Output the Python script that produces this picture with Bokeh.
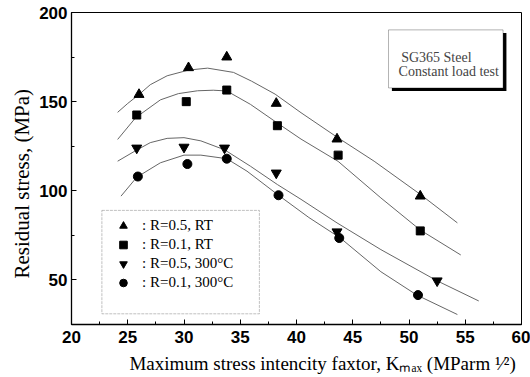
from bokeh.embed import file_html
from bokeh.models import (BoxAnnotation, Label, Legend, LegendItem, Range1d,
                          SingleIntervalTicker, Title)
from bokeh.plotting import figure
from bokeh.resources import INLINE

# Measured residual stress (MPa) against K_max (MPa m^1/2)
k_r05_rt = [26.0, 30.4, 33.8, 38.2, 43.6, 51.0]
s_r05_rt = [154, 169, 175, 149, 129, 97]
k_r01_rt = [25.8, 30.2, 33.8, 38.3, 43.7, 51.0]
s_r01_rt = [142.5, 150, 156.5, 136.5, 120, 77.5]
k_r05_300 = [25.8, 30.0, 33.6, 38.2, 43.6, 52.5]
s_r05_300 = [124, 124.5, 124, 110, 77, 49.5]
k_r01_300 = [25.9, 30.3, 33.8, 38.4, 43.8, 50.8]
s_r01_300 = [108, 115, 118, 97.5, 73.5, 41.5]

# Trend curves through each series
fit_k_r05_rt = [24.1, 25.0, 26.0, 27.0, 28.5, 30.4, 32.1, 34.4, 36.0, 38.1, 40.4, 43.6, 46.9, 51.0, 54.3]
fit_s_r05_rt = [144, 149, 154, 159.5, 164.5, 167.7, 168.8, 166.4, 161.5, 154.2, 143.8, 130.1, 116.6, 98, 82]
fit_k_r01_rt = [24.1, 25.7, 27.9, 29.5, 31.2, 32.6, 33.8, 35.9, 38.3, 40.4, 43.7, 47.5, 51.0, 54.6]
fit_s_r01_rt = [128.8, 141, 151, 154.5, 156.1, 156.4, 156, 148.5, 138, 129, 116.5, 96, 78, 64]
fit_k_r05_300 = [24.1, 25.7, 27.0, 28.5, 30.0, 31.5, 33.6, 35.9, 38.3, 40.4, 43.6, 47.5, 52.5, 56.2]
fit_s_r05_300 = [116.6, 122.5, 127, 129.4, 129.8, 128, 123, 113.8, 103.5, 95.2, 82, 67, 49.5, 38.2]
fit_k_r01_300 = [24.4, 25.8, 27.9, 30.0, 31.5, 33.8, 35.6, 38.4, 41.1, 43.9, 47.5, 50.7, 54.3]
fit_s_r01_300 = [97, 107.6, 115.7, 120, 120, 118, 111, 97.5, 85, 73.5, 54.6, 41.5, 30.6]

legend_labels = [": R=0.5, RT", ": R=0.1, RT", ": R=0.5, 300\u00b0C", ": R=0.1, 300\u00b0C"]
x_title = "Maximum stress intencity faxtor, K\u2098\u2090\u2093 (MParm \u00b9\u2044\u00b2)"
y_title = "Residual stress, (MPa)"

SERIF = "Liberation Serif"
SANS = "Liberation Sans"

p = figure(width=530, height=377, x_range=Range1d(20, 60), y_range=Range1d(25, 200),
           output_backend="svg", toolbar_location=None,
           min_border_left=71, min_border_right=9, min_border_top=12, min_border_bottom=53)
p.xgrid.visible = False
p.ygrid.visible = False
p.outline_line_color = "black"
p.outline_line_width = 1
p.outline_line_alpha = 1

p.xaxis.ticker = SingleIntervalTicker(interval=5, num_minor_ticks=2)
p.yaxis.ticker = SingleIntervalTicker(interval=50, num_minor_ticks=2)
for ax in (p.xaxis[0], p.yaxis[0]):
    ax.axis_line_color = "black"
    ax.axis_line_width = 1.3
    ax.major_tick_in = 5
    ax.major_tick_out = 0
    ax.minor_tick_in = 3
    ax.minor_tick_out = 0
    ax.major_tick_line_color = "black"
    ax.minor_tick_line_color = "black"
    ax.major_label_text_font = SANS
    ax.major_label_text_font_style = "bold"
    ax.major_label_text_font_size = "17px"
    ax.major_label_text_color = "black"
p.xaxis.major_label_standoff = 6
p.yaxis.major_label_standoff = 4

# x title sits in the axis panel; leading no-break spaces push it right of centre
xa = p.xaxis[0]
xa.axis_label = "\u00a0" * 11 + x_title
xa.axis_label_standoff = 7
xa.axis_label_text_font = SERIF
xa.axis_label_text_font_size = "19px"
xa.axis_label_text_font_style = "normal"
xa.axis_label_text_color = "black"

# y title as a side-panel title, offset up from the frame bottom
p.add_layout(Title(text=y_title, align="left", offset=46, standoff=5,
                   text_font=SERIF, text_font_size="21px", text_font_style="normal",
                   text_color="black"), "left")

curve_color = "#666666"
fits = [(fit_k_r05_rt, fit_s_r05_rt), (fit_k_r01_rt, fit_s_r01_rt),
        (fit_k_r05_300, fit_s_r05_300), (fit_k_r01_300, fit_s_r01_300)]
for fk, fs in fits:
    p.line(fk, fs, line_color=curve_color, line_width=1)

r1 = p.scatter(k_r05_rt, s_r05_rt, marker="triangle", size=10, color="black")
r2 = p.scatter(k_r01_rt, s_r01_rt, marker="square", size=8, color="black")
r3 = p.scatter(k_r05_300, s_r05_300, marker="inverted_triangle", size=10, color="black")
r4 = p.scatter(k_r01_300, s_r01_300, marker="circle", size=9, color="black")

# Legend frame (dashed) and entries
p.add_layout(BoxAnnotation(left=22.7, right=36.7, bottom=31.0, top=89.0,
                           fill_color="white", fill_alpha=1,
                           line_color="#333333", line_width=1, line_dash="3 1"))
legend = Legend(items=[LegendItem(label=lab, renderers=[r])
                       for lab, r in zip(legend_labels, [r1, r2, r3, r4])],
                location=(40, 32), orientation="vertical",
                border_line_alpha=0, background_fill_alpha=0,
                label_text_font=SERIF, label_text_font_size="15px",
                label_text_color="black",
                glyph_width=24, glyph_height=19, label_height=19,
                spacing=0, padding=0, margin=0, label_standoff=7)
p.add_layout(legend)

# Specimen note box with drop shadow
p.add_layout(BoxAnnotation(left=48.48, right=58.66, bottom=156.0, top=188.55,
                           fill_color="black", fill_alpha=1, line_alpha=0))
p.add_layout(BoxAnnotation(left=48.18, right=58.36, bottom=157.7, top=190.25,
                           fill_color="white", fill_alpha=1,
                           line_color="black", line_width=1))
p.add_layout(Label(x=49.3, y=174.9, text="SG365 Steel", text_font=SERIF,
                   text_font_size="14px", text_baseline="alphabetic"))
p.add_layout(Label(x=49.07, y=167.0, text="Constant load test", text_font=SERIF,
                   text_font_size="14px", text_baseline="alphabetic"))

open("out.html", "w").write(file_html(p, INLINE))
